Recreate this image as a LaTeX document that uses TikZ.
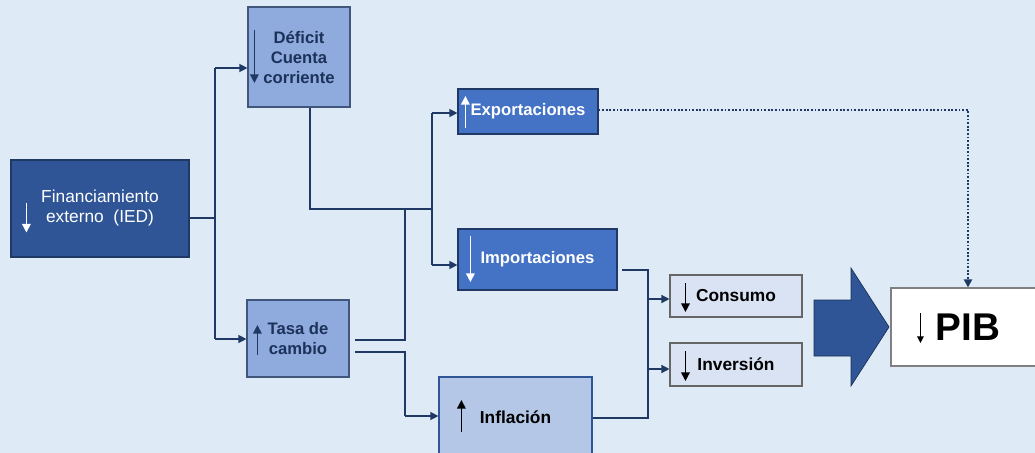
\documentclass[tikz,border=0pt]{standalone}
\usepackage{fontspec}
\setmainfont{Liberation Sans}
\usetikzlibrary{arrows.meta,calc}
\definecolor{bg}{HTML}{DEEBF7}
\definecolor{navy}{HTML}{2F5597}
\definecolor{ink}{HTML}{1F3864}
\definecolor{midblue}{HTML}{8FAADC}
\definecolor{accent}{HTML}{4472C4}
\definecolor{paleblue}{HTML}{B4C7E7}
\definecolor{faint}{HTML}{DAE3F3}

\begin{document}
\begin{tikzpicture}[x=0.75pt,y=-0.75pt,>={Triangle[width=6pt,length=6pt]},
  box/.style={draw,align=center,inner sep=2pt,line width=0.9pt},
  darkbox/.style={box,fill=navy,draw=ink,text=white,font=\fontsize{13}{15}\selectfont},
  midbox/.style={box,fill=midblue,draw=ink!85,text=ink!90!black,font=\fontsize{12.5}{15}\selectfont\bfseries},
  accbox/.style={box,fill=accent,draw=ink,text=white,font=\fontsize{12.5}{15}\selectfont\bfseries},
  palebox/.style={box,fill=paleblue,draw=navy,text=black,font=\fontsize{13}{15}\selectfont\bfseries},
  faintbox/.style={box,fill=faint,draw=black!60,line width=0.8pt,text=black,font=\fontsize{13}{15}\selectfont\bfseries},
  link/.style={draw=ink,line width=1pt},
  dotlink/.style={draw=ink,line width=1.4pt,dash pattern=on 1.4pt off 1.3pt},
  inarrow/.style={line width=1.1pt,-{Triangle[width=6.5pt,length=6.5pt]}}]

\fill[bg] (0,0) rectangle (1035,453);
\useasboundingbox (0,0) rectangle (1035,453);

% boxes
\node[darkbox,minimum width=133.5pt,minimum height=72.75pt] (fin) at (100,208.5) {Financiamiento\\externo\ \ (IED)};
\node[midbox,minimum width=76.5pt,minimum height=75pt] (def) at (299,57) {D\'eficit\\Cuenta\\corriente};
\node[midbox,minimum width=76.5pt,minimum height=57.75pt] (tasa) at (298,338.5) {Tasa de\\cambio};
\node[accbox,minimum width=105pt,minimum height=33.75pt] (exp) at (528,111.5) {Exportaciones};
\node[accbox,minimum width=119.25pt,minimum height=45.75pt] (imp) at (537.5,259.5) {Importaciones};
\node[palebox,minimum width=114.75pt,minimum height=60pt] (infl) at (515.5,417) {Inflaci\'on};
\node[faintbox,minimum width=99pt,minimum height=31.5pt] (cons) at (736,296) {Consumo};
\node[faintbox,minimum width=99pt,minimum height=32.25pt] (inv) at (736,364.5) {Inversi\'on};
\node[box,fill=white,draw=black!50,line width=0.8pt,minimum width=115.5pt,minimum height=58.5pt,
  font=\fontsize{29}{32}\selectfont\bfseries,text depth=-3pt] (pib) at (968,327) {PIB};

% arrows inside the boxes
\draw[inarrow,white] ([shift={(16,-6)}]fin.west) -- ++(0,30);
\draw[inarrow,ink] ([shift={(7,-27)}]def.west) -- ++(0,53);
\draw[inarrow,ink] ([shift={(11,16.5)}]tasa.west) -- ++(0,-30);
\draw[inarrow,white] ([shift={(8,16.5)}]exp.west) -- ++(0,-32);
\draw[inarrow,white] ([shift={(13,-23.5)}]imp.west) -- ++(0,46);
\draw[inarrow,black] ([shift={(23,15)}]infl.west) -- ++(0,-32);
\draw[inarrow,black] ([shift={(16,-13)}]cons.west) -- ++(0,29);
\draw[inarrow,black] ([shift={(16,-13.5)}]inv.west) -- ++(0,30);
\draw[line width=0.8pt,black,-{Triangle[width=5pt,length=5pt]}] ([shift={(30,-14)}]pib.west) -- ++(0,30);

% junctions
\coordinate (jfin) at (215,218);
\coordinate (ja) at (215,68);
\coordinate (jb) at (215,339);
\coordinate (jc) at (310,209);
\coordinate (jd) at (432,209);
\coordinate (je) at (432,113);
\coordinate (jf) at (432,265);
\coordinate (jg0) at (355,340);
\coordinate (jg) at (405,340);
\coordinate (jh0) at (355,352);
\coordinate (jh) at (405,352);
\coordinate (ji) at (405,416);
\coordinate (jk0) at (622,270);
\coordinate (jk) at (648,270);
\coordinate (jl) at (648,418);
\coordinate (jm) at (648,299);
\coordinate (jn) at (648,369);
\coordinate (jp) at (968,110);

% connectors
\draw[link] (fin.east |- jfin) -- (jfin);
\draw[link] (ja) -- (jb);
\draw[link,->] (ja) -- (def.west |- ja);
\draw[link,->] (jb) -- (tasa.west |- jb);
\draw[link] (def.south -| jc) -- (jc) -- (jd);
\draw[link] (je) -- (jf);
\draw[link,->] (je) -- (exp.west |- je);
\draw[link,->] (jf) -- (imp.west |- jf);
\draw[link] (jg0) -- (jg) -- (jg |- jc);
\draw[link] (jh0) -- (jh) -- (ji);
\draw[link,->] (ji) -- (infl.west |- ji);
\draw[link] (jk0) -- (jk) -- (jl) -- (infl.east |- jl);
\draw[link,->] (jm) -- (cons.west |- jm);
\draw[link,->] (jn) -- (inv.west |- jn);
\draw[dotlink,->] (exp.east |- jp) -- (jp) -- (pib.north -| jp);

% big arrow into PIB
\filldraw[fill=navy,draw=black!45!navy,line width=0.5pt] (814,300) -- (851,300) -- (851,268) -- (889,327)
  -- (851,386) -- (851,356) -- (814,356) -- cycle;
\end{tikzpicture}
\end{document}
